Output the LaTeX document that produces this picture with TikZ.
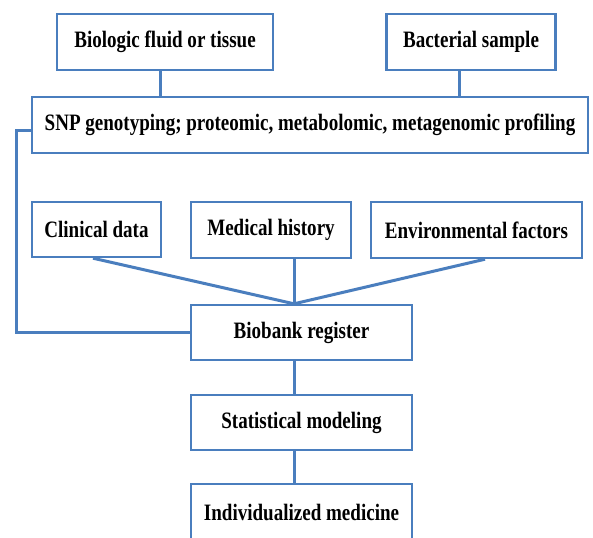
\documentclass[tikz,border=0pt]{standalone}
\usepackage{fontspec}
\setmainfont{Liberation Serif}[FakeStretch=0.81]
\definecolor{boxblue}{RGB}{74,126,190}
\begin{document}
\begin{tikzpicture}[x=1pt,y=-1pt,
  box/.style={draw=boxblue, line width=2.4pt, fill=white, inner sep=0pt,
    font=\fontsize{23.5}{27}\selectfont\bfseries, text=black},
  conn/.style={draw=boxblue, line width=3pt}]
\clip (0,0) rectangle (593,537);
\fill[white] (0,0) rectangle (593,537);
\node[box, minimum width=216, minimum height=56] (b1) at (165,42) {Biologic fluid or tissue};
\node[box, minimum width=169, minimum height=56] (b2) at (471,42) {Bacterial sample};
\node[box, minimum width=556, minimum height=56] (snp) at (310,125) {SNP genotyping; proteomic, metabolomic, metagenomic profiling};
\node[box, minimum width=129, minimum height=55] (clin) at (96.5,229.5) {Clinical data};
\node[box, minimum width=160, minimum height=56] (med) at (271,230) {Medical history};
\node[box, minimum width=211, minimum height=56] (env) at (476.5,230) {Environmental factors};
\node[box, minimum width=221, minimum height=55] (bio) at (301.5,332.5) {Biobank register};
\node[box, minimum width=221, minimum height=55] (stat) at (301.5,422.5) {Statistical modeling};
\node[box, minimum width=221, minimum height=57] (ind) at (301.5,512.5) {Individualized medicine};
\coordinate (m) at ([xshift=-7.5pt]bio.north);
\coordinate (bl) at (16,0);
\draw[conn] ([xshift=-5pt]b1.south) -- ([xshift=-5pt]b1.south |- snp.north);
\draw[conn] ([xshift=-12pt]b2.south) -- ([xshift=-12pt]b2.south |- snp.north);
\draw[conn] ([xshift=-3.5pt]clin.south) -- (m);
\draw[conn] (m |- med.south) -- (m);
\draw[conn] ([xshift=8.5pt]env.south) -- (m);
\draw[conn] (m |- bio.south) -- (m |- stat.north);
\draw[conn] (m |- stat.south) -- (m |- ind.north);
\draw[conn] ([yshift=-6pt]snp.west) -| (bl |- bio.west) -- (bio.west);
\end{tikzpicture}
\end{document}
